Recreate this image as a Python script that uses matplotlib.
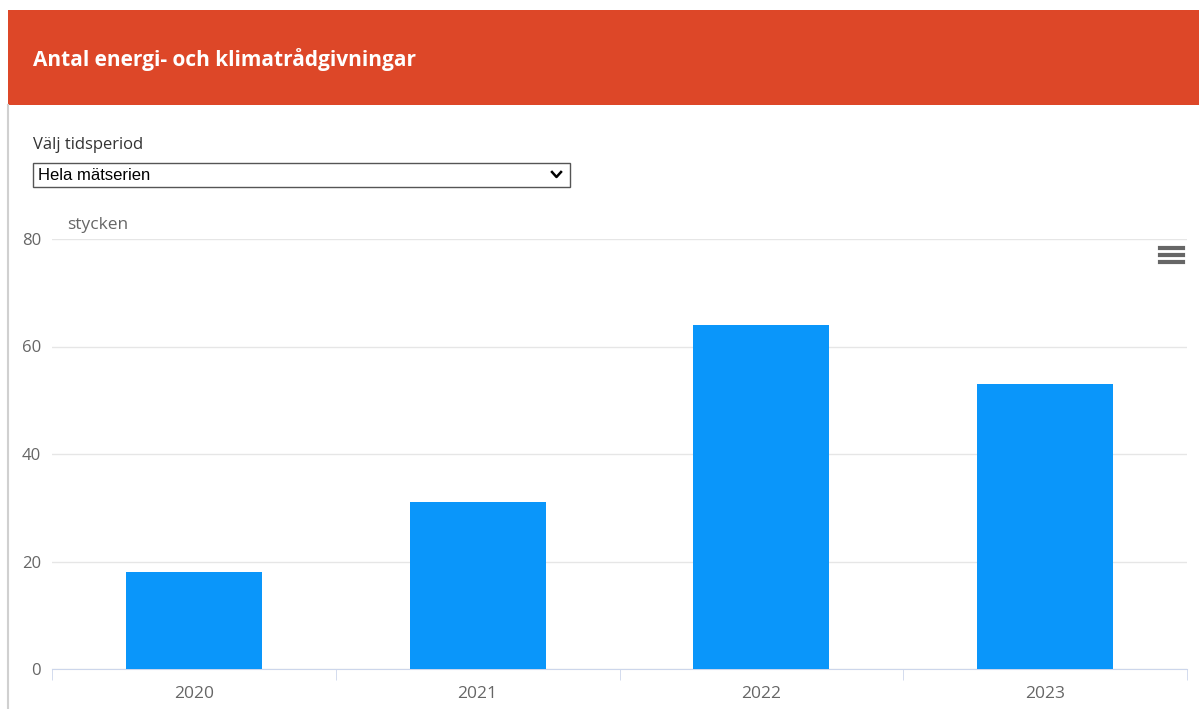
import matplotlib.pyplot as plt
from matplotlib.patches import Rectangle

years = ['2020', '2021', '2022', '2023']
counts = [18, 31, 64, 53]
y_ticks = [0, 20, 40, 60, 80]

W, H = 1199, 709
fig = plt.figure(figsize=(W / 100, H / 100), dpi=100)
fig.patch.set_facecolor('white')

def fx(px):
    return px / W

def fy(py):
    return 1 - py / H

# kortets ram och röd rubrikrad
fig.add_artist(plt.Line2D([fx(8), fx(8)], [fy(105), fy(709)], color='#d0d0d0', lw=1.5))
fig.add_artist(Rectangle((fx(8), fy(105)), fx(1199 - 8), (105 - 10) / H,
                         facecolor='#DD4728', edgecolor='none'))
fig.text(fx(33), fy(60), 'Antal energi- och klimatrådgivningar', color='white',
         fontsize=15, fontweight='bold', family='Open Sans', va='center')

# val av tidsperiod
fig.text(fx(33), fy(145), 'Välj tidsperiod', fontsize=12, color='#333333',
         family='Open Sans', va='center')
fig.add_artist(Rectangle((fx(33), fy(187)), fx(570 - 33), (187 - 163) / H,
                         facecolor='white', edgecolor='#555555', lw=1))
fig.text(fx(38), fy(175), 'Hela mätserien', fontsize=12, color='black',
         family='Liberation Sans', va='center')
fig.add_artist(plt.Line2D([fx(552), fx(556.5), fx(561)], [fy(172), fy(177), fy(172)],
                          color='black', lw=1.8))

# diagrammet
ax = fig.add_axes([fx(52), fy(669), fx(1187 - 52), (669 - 239) / H])
x = range(len(years))
ax.bar(x, counts, width=0.48, color='#0A96FA', zorder=3)
ax.set_xlim(-0.5, len(years) - 0.5)
ax.set_ylim(0, 80)
ax.set_yticks(y_ticks)
ax.set_xticks(list(x))
ax.set_xticklabels(years)
ax.set_xticks([i + 0.5 for i in range(-1, len(years))], minor=True)
ax.grid(axis='y', color='#e6e6e6', lw=1, zorder=0)
for s in ['top', 'right', 'left']:
    ax.spines[s].set_visible(False)
ax.spines['bottom'].set_color('#ccd6eb')
ax.tick_params(axis='y', length=0, pad=8, labelsize=12, labelcolor='#666666')
ax.tick_params(axis='x', which='major', length=0, pad=12, labelsize=12.5, labelcolor='#666666')
ax.tick_params(axis='x', which='minor', length=8, color='#ccd6eb')
for lab in ax.get_xticklabels() + ax.get_yticklabels():
    lab.set_family('Open Sans')

fig.text(fx(67), fy(225), 'stycken', fontsize=12.5, color='#666666',
         family='Open Sans', va='center')

# menyikon
for yy in [248, 255, 262]:
    fig.add_artist(plt.Line2D([fx(1160), fx(1183)], [fy(yy), fy(yy)], color='#666666', lw=3))

fig.savefig('out.png', dpi=100)
